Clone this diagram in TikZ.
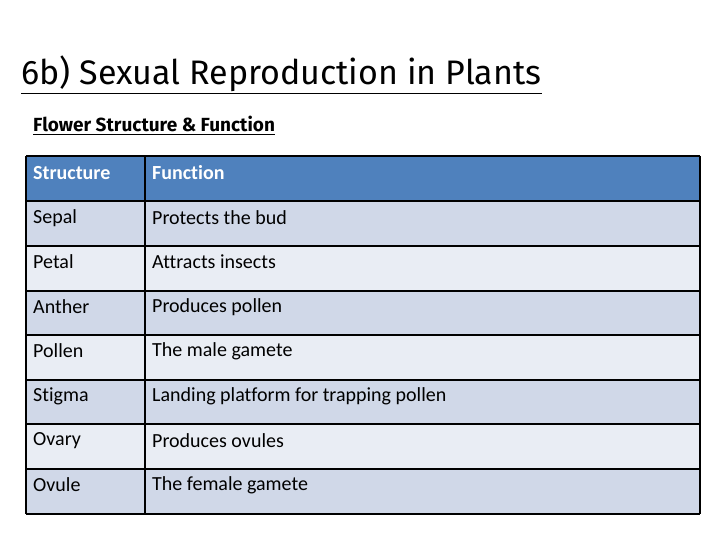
\documentclass[tikz,border=0pt]{standalone}
\usepackage{fontspec}
\setmainfont{Carlito}[Ligatures={NoCommon,TeX}]
\newfontfamily\titlefont{Fira Sans}
\definecolor{hdr}{HTML}{4F81BD}
\definecolor{rowa}{HTML}{D0D8E8}
\definecolor{rowb}{HTML}{E9EDF4}
\begin{document}
\begin{tikzpicture}[x=1pt,y=-1pt,
  cell/.style={anchor=west,font=\fontsize{20}{24}\selectfont,inner sep=0pt},
  hcell/.style={cell,text=white,font=\fontsize{20}{24}\selectfont\bfseries},
  grid/.style={line width=2pt,black}]
\useasboundingbox[fill=white] (0,0) rectangle (720,540);
\node[anchor=base west,inner sep=0pt,font=\titlefont\fontsize{34}{38}\selectfont] (title) at (21,85) {\underline{6b) Sexual Reproduction in Plants}};
\node[anchor=base west,inner sep=0pt,font=\titlefont\bfseries\fontsize{19}{22}\selectfont] (sub) at (33,132) {\underline{Flower Structure \& Function}};
\fill[hdr] (26,156) rectangle (700,201);
\def\ys{{201,246,291,335,380,424,469,514}}
\foreach \i in {0,...,6}{
  \pgfmathsetmacro\ya{\ys[\i]}\pgfmathsetmacro\yb{\ys[\i+1]}
  \pgfmathparse{mod(\i,2)==0?"rowa":"rowb"}
  \fill[\pgfmathresult] (26,\ya) rectangle (700,\yb);
}
\foreach \y in {156,201,246,291,335,380,424,469,514} \draw[grid] (26,\y) -- (700,\y);
\foreach \x in {26,145,700} \draw[grid] (\x,156) -- (\x,514);
\node[hcell] (h1) at (33,173) {Structure};
\node[hcell] (h2) at (152,173) {Function};
\foreach \n/\s/\f/\y in {a/Sepal/Protects the bud/218, b/Petal/Attracts insects/262, c/Anther/Produces pollen/307, d/Pollen/The male gamete/351, e/Stigma/Landing platform for trapping pollen/396, f/Ovary/Produces ovules/441, g/Ovule/The female gamete/485}{
  \node[cell] (s\n) at (33,\y) {\s};
  \node[cell] (f\n) at (152,\y) {\f};
}
\end{tikzpicture}
\end{document}
